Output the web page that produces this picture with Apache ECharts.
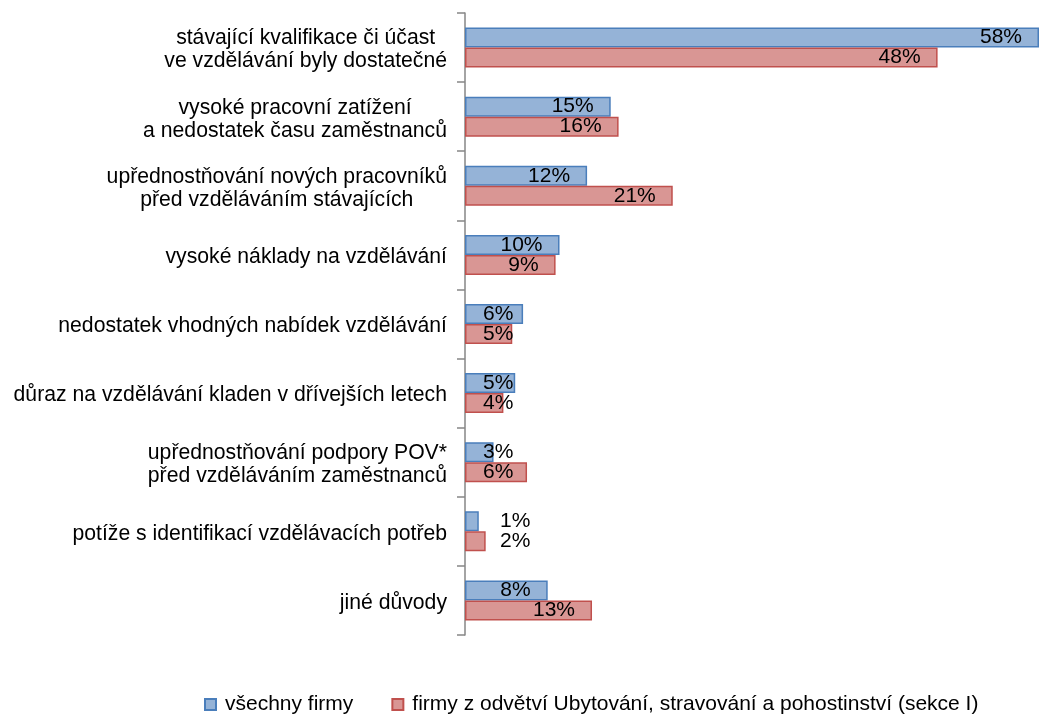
<!DOCTYPE html>
<html>
<head>
<meta charset="utf-8">
<script src="https://cdn.jsdelivr.net/npm/echarts@6/dist/echarts.min.js"></script>
<style>html,body{margin:0;padding:0;background:#fff}#c{width:1039px;height:715px}</style>
</head>
<body>
<div id="c"></div>
<script>
const categories = [
  "stávající kvalifikace či účast\nve vzdělávání byly dostatečné",
  "vysoké pracovní zatížení\na nedostatek času zaměstnanců",
  "upřednostňování nových pracovníků\npřed vzděláváním stávajících",
  "vysoké náklady na vzdělávání",
  "nedostatek vhodných nabídek vzdělávání",
  "důraz na vzdělávání kladen v dřívejších letech",
  "upřednostňování podpory POV*\npřed vzděláváním zaměstnanců",
  "potíže s identifikací vzdělávacích potřeb",
  "jiné důvody"
];
const seriesNames = ["všechny firmy", "firmy z odvětví Ubytování, stravování a pohostinství (sekce I)"];
const allFirms = [58.3, 14.8, 12.4, 9.6, 5.9, 5.1, 2.9, 1.4, 8.4];
const sectorI = [48.0, 15.6, 21.1, 9.2, 4.8, 3.9, 6.3, 2.1, 12.9];

const FONT = "'Liberation Sans', Arial, sans-serif";

function items(values) {
  return values.map(v => {
    let label;
    if (v < 2.5) label = { position: 'insideLeft', distance: 35 };
    else if (v < 7) label = { position: 'insideLeft', distance: 18 };
    else label = { position: 'insideRight', distance: 17 };
    return { value: v, label: label };
  });
}

const labelStyle = {
  show: true,
  color: '#000',
  fontSize: 21,
  fontFamily: FONT,
  formatter: p => Math.round(p.value) + '%'
};

const chart = echarts.init(document.getElementById('c'), null, { renderer: 'canvas' });
chart.setOption({
  animation: false,
  backgroundColor: '#fff',
  grid: { left: 465, right: 0, top: 13, height: 622, containLabel: false },
  xAxis: {
    type: 'value', min: 0, max: 58.3,
    show: false
  },
  yAxis: {
    type: 'category',
    data: categories,
    inverse: true,
    axisLine: { show: true, lineStyle: { color: '#868686', width: 1.5 } },
    axisTick: { show: true, length: 8, lineStyle: { color: '#868686', width: 1.5 } },
    axisLabel: {
      margin: 18,
      fontSize: 21.2,
      fontFamily: FONT,
      color: '#000',
      lineHeight: 23,
      padding: [5, 0, 0, 0],
      formatter: v => v.split('\n').map(s => '{c|' + s + '}').join('\n'),
      rich: { c: { align: 'center', fontSize: 21.2, fontFamily: FONT, color: '#000', lineHeight: 23 } }
    },
    splitLine: { show: false }
  },
  legend: {
    data: seriesNames,
    left: 204,
    top: 694,
    padding: 0,
    itemWidth: 11,
    itemHeight: 11,
    itemGap: 38,
    icon: 'rect',
    textStyle: { fontSize: 21, fontFamily: FONT, color: '#000', padding: [0, 0, 0, 4] }
  },
  series: [
    {
      name: seriesNames[0],
      type: 'bar',
      data: items(allFirms),
      barWidth: 20,
      barGap: '0%',
      itemStyle: { color: '#95b3d7', borderColor: '#4a7ebb', borderWidth: 1.5 },
      label: labelStyle
    },
    {
      name: seriesNames[1],
      type: 'bar',
      data: items(sectorI),
      barWidth: 20,
      barGap: '0%',
      itemStyle: { color: '#d99694', borderColor: '#c0504d', borderWidth: 1.5 },
      label: labelStyle
    }
  ]
});
</script>
</body>
</html>
